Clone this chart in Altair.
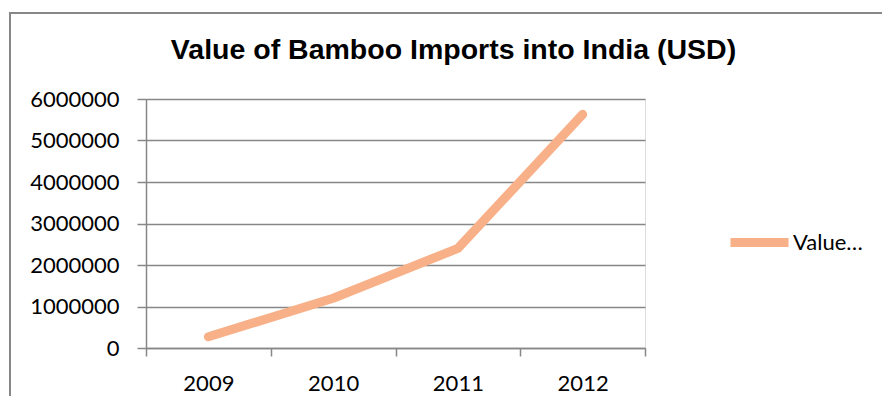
import altair as alt
import pandas as pd

years = ["2009", "2010", "2011", "2012"]
values = [270000, 1200000, 2400000, 5630000]
series = ["Value…"]
y_ticks = [0, 1000000, 2000000, 3000000, 4000000, 5000000, 6000000]
title_text = "Value of Bamboo Imports into India (USD)"

df = pd.DataFrame({"Year": years, "Value": values, "Series": series * len(years)})

GRID = "#878787"
LINE = "#F8B088"
FONT = "Lato"

one = pd.DataFrame({"f": [0]})
frame_top = alt.Chart(one).mark_rule(stroke=GRID, strokeWidth=2).encode(
    x=alt.value(-137), x2=alt.value(900), y=alt.value(-86)
)
frame_left = alt.Chart(one).mark_rule(stroke=GRID, strokeWidth=2).encode(
    x=alt.value(-136), y=alt.value(-87), y2=alt.value(500)
)

line = alt.Chart(df).mark_line(
    strokeWidth=9, strokeCap="round", strokeJoin="round"
).encode(
    x=alt.X(
        "Year:O",
        sort=years,
        scale=alt.Scale(type="band", paddingInner=0, paddingOuter=0),
        axis=alt.Axis(
            title=None, labelAngle=0, tickBand="extent", grid=False,
            domainColor=GRID, domainWidth=1.5, tickColor=GRID, tickWidth=1.5,
            tickSize=8, labelFont=FONT, labelFontSize=22, labelColor="#000000",
            labelPadding=17,
        ),
    ),
    y=alt.Y(
        "Value:Q",
        scale=alt.Scale(domain=[0, 6000000], nice=False),
        axis=alt.Axis(
            title=None, values=y_ticks, format="d", grid=True, gridColor=GRID,
            gridWidth=1.5, domainColor=GRID, domainWidth=1.5, tickColor=GRID,
            tickWidth=1.5, tickSize=9, labelPadding=18, labelFont=FONT,
            labelFontSize=22, labelColor="#000000",
        ),
    ),
    color=alt.Color(
        "Series:N",
        scale=alt.Scale(domain=series, range=[LINE]),
        legend=alt.Legend(
            title=None, orient="none", legendX=580, legendY=110,
            symbolType="stroke", symbolSize=3364, symbolStrokeWidth=9,
            symbolStrokeColor=LINE, padding=0, labelOffset=0,
            labelFont=FONT, labelFontSize=22, labelColor="#000000",
            labelLimit=200,
        ),
    ),
)

chart = alt.layer(frame_top, frame_left, line).properties(
    width=499,
    height=249,
    autosize=alt.AutoSizeParams(type="none"),
    padding={"left": 138, "top": 91, "right": 237, "bottom": 48},
    title=alt.Title(
        title_text, font="Liberation Sans", fontSize=28.5,
        fontWeight="bold", color="#000000", anchor="middle", dx=58,
        baseline="alphabetic", offset=-48, dy=28,
    ),
).configure_view(stroke=None).configure(background="white")

chart.save("out.html", embed_options={"renderer": "svg", "actions": False})
